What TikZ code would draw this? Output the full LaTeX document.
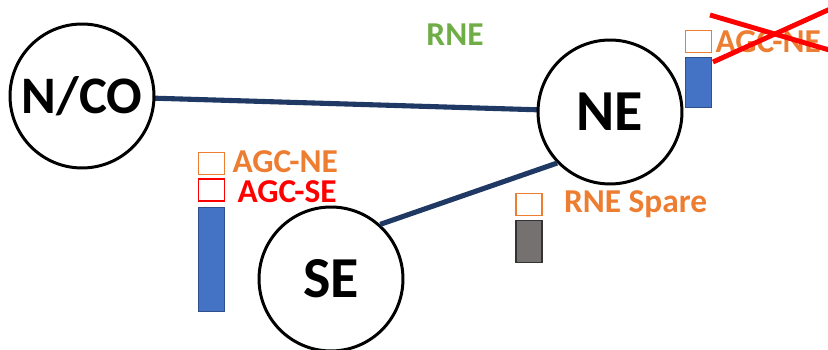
\documentclass[tikz,border=0pt]{standalone}
\usepackage{fontspec}
\setmainfont{Carlito}
\usetikzlibrary{positioning, backgrounds}
\definecolor{linknavy}{HTML}{203864}
\definecolor{agcorange}{HTML}{ED7D31}
\definecolor{agcblue}{HTML}{4472C4}
\definecolor{rnegreen}{HTML}{70AD47}
\definecolor{sparegrey}{HTML}{767171}

\begin{document}
\begin{tikzpicture}[x=0.02cm, y=-0.02cm,
  site/.style={draw, circle, line width=1.7pt, fill=white, minimum size=2.88cm, inner sep=0pt, font=\fontsize{33}{36}\selectfont\bfseries},
  slot/.style={draw, rectangle, line width=0.8pt, fill=white, minimum width=0.52cm, minimum height=0.44cm, inner sep=0pt},
  bar/.style={draw, rectangle, line width=0.6pt, minimum width=0.52cm, inner sep=0pt},
  tag/.style={inner sep=0pt, anchor=west, font=\fontsize{19}{22}\selectfont\bfseries},
]
  \useasboundingbox (0,0) rectangle (828,350);
  \clip (0,0) rectangle (828,350);

  % Sites
  \node[site, font=\fontsize{30}{34}\selectfont\bfseries] (nco) at (82,96) {N/CO};
  \node[site] (ne) at (610,112) {NE};
  \node[site] (se) at (331,279) {SE};

  % Links
  \begin{scope}[on background layer]
    \draw[linknavy, line width=2.9pt] (nco.center) -- (ne.center);
  \end{scope}
  \draw[linknavy, line width=2.9pt] (se.48) -- (ne.224);

  % AGC slots at SE
  \node[slot, draw=agcorange] (sen) at (211.5,163.5) {};
  \node[slot, draw=red, below=0.06cm of sen] (ses) {};
  \node[bar, draw=agcblue!70!black, fill=agcblue, minimum height=2.08cm, below=0.1cm of ses] (sebar) {};
  \node[tag, text=agcorange, right=0.14cm of sen, yshift=0.03cm] (sentag) {AGC-NE};
  \node[tag, text=red, right=0.24cm of ses, yshift=-0.03cm] (sestag) {AGC-SE};

  % Spare slot at NE
  \node[slot, draw=agcorange] (sp) at (529,204.5) {};
  \node[bar, draw=black!80, fill=sparegrey, minimum height=0.84cm, below=0.08cm of sp] (spbar) {};
  \node[tag, text=agcorange, right=0.42cm of sp] (sptag) {RNE Spare};

  % Removed AGC at NE
  \node[slot, draw=agcorange] (xn) at (698.5,41.5) {};
  \node[bar, draw=agcblue!70!black, fill=agcblue, minimum height=1.0cm, below=0.08cm of xn] (xbar) {};
  \node[tag, text=agcorange, right=0.06cm of xn] (xtag) {AGC-NE};
  \coordinate (xa) at (710,15);
  \coordinate (xb) at (870,62);
  \coordinate (xc) at (713,62);
  \coordinate (xd) at (870,-9);
  \draw[red, line width=2.8pt] (xa) -- (xb);
  \draw[red, line width=2.8pt] (xc) -- (xd);

  % Labels
  \node[font=\fontsize{19}{22}\selectfont\bfseries, text=rnegreen] (rne) at (455,35) {RNE};
\end{tikzpicture}
\end{document}
